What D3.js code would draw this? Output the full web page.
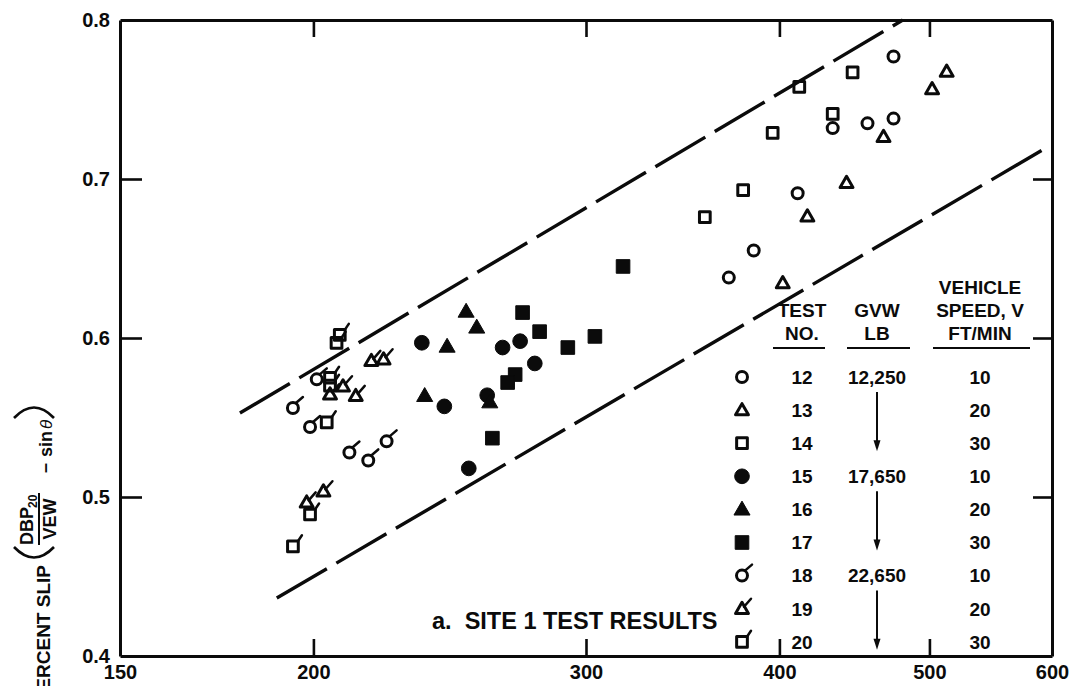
<!DOCTYPE html>
<html>
<head>
<meta charset="utf-8">
<script src="https://cdn.jsdelivr.net/npm/d3@7"></script>
<style>
  html, body { margin: 0; padding: 0; background: #fff; }
  svg { display: block; font-family: "Liberation Sans", Arial, Helvetica, sans-serif; font-weight: bold; }
</style>
</head>
<body>
<svg id="chart" width="1074" height="686"></svg>
<script>
// ---- data ----------------------------------------------------------------
const xTickValues = [150, 200, 300, 400, 500, 600];
const yTickValues = [0.4, 0.5, 0.6, 0.7, 0.8];

// [vehicle weight-related abscissa, percent slip]
const test12 = [[474, 0.777], [456, 0.735], [474, 0.738], [433, 0.732], [411, 0.691], [385, 0.655], [371, 0.638]];
const test13 = [[513, 0.767], [502, 0.756], [467, 0.726], [442, 0.697], [417, 0.676], [402, 0.634]];
const test14 = [[446, 0.767], [412, 0.758], [396, 0.729], [433, 0.741], [379, 0.693], [358, 0.676]];
const test15 = [[235, 0.597], [272, 0.598], [265, 0.594], [278, 0.584], [259, 0.564], [243, 0.557], [252, 0.518]];
const test16 = [[251, 0.616], [255, 0.606], [244, 0.594], [236, 0.563], [260, 0.559]];
const test17 = [[273, 0.616], [280, 0.604], [304, 0.601], [292, 0.594], [270, 0.577], [267, 0.572], [261, 0.537], [317, 0.645]];
const test18 = [[201, 0.574], [194, 0.556], [199, 0.544], [211, 0.528], [217, 0.523], [223, 0.535]];
const test19 = [[209, 0.569], [213, 0.563], [218, 0.585], [222, 0.586], [205, 0.564], [203, 0.503], [198, 0.496]];
const test20 = [[208, 0.602], [207, 0.597], [205, 0.575], [205, 0.570], [204, 0.547], [199, 0.489], [194, 0.469]];

const testNumbers = [12, 13, 14, 15, 16, 17, 18, 19, 20];
const gvwLabels = ["12,250", "", "", "17,650", "", "", "22,650", "", ""];
const speedLabels = [10, 20, 30, 10, 20, 30, 10, 20, 30];
const shapes = ["circle", "triangle", "square", "circle", "triangle", "square", "circle", "triangle", "square"];
const styles = ["open", "open", "open", "filled", "filled", "filled", "tailed", "tailed", "tailed"];
const seriesValues = [test12, test13, test14, test15, test16, test17, test18, test19, test20];

// envelope lines bounding the scatter
const upperBound = [[179.3, 0.5528], [480.6, 0.8]];
const lowerBound = [[189.4, 0.4365], [595.8, 0.720]];

// ---- drawing -------------------------------------------------------------
const ink = "#0b0b0b";
const svg = d3.select("#chart");

const x = d3.scaleLog().domain([150, 600]).range([120, 1052]);
const y = d3.scaleLinear().domain([0.4, 0.8]).range([656, 20]);

function styleAxis(g, fontSize) {
  g.select(".domain").attr("stroke", ink).attr("stroke-width", 3);
  g.selectAll(".tick line").attr("stroke", ink).attr("stroke-width", 2.6);
  g.selectAll(".tick text").attr("fill", ink).attr("font-size", fontSize)
    .attr("font-weight", "bold").attr("font-family", "'Liberation Sans', Arial, sans-serif");
}

// bottom axis with labels
svg.append("g")
  .attr("transform", `translate(0,${y(0.4)})`)
  .call(d3.axisBottom(x).tickValues(xTickValues).tickSizeInner(-17).tickSizeOuter(0)
    .tickPadding(9).tickFormat(d3.format("d")))
  .call(g => styleAxis(g, 20))
  .call(g => g.selectAll(".tick").filter(d => d === 150 || d === 600).select("line").remove());

// top axis
svg.append("g")
  .attr("transform", `translate(0,${y(0.8)})`)
  .call(d3.axisTop(x).tickValues([200, 300, 400, 500]).tickSizeInner(-17).tickSizeOuter(0).tickFormat(""))
  .call(g => styleAxis(g, 20));

// left axis with labels
svg.append("g")
  .attr("transform", `translate(${x(150)},0)`)
  .call(d3.axisLeft(y).tickValues(yTickValues).tickSizeInner(-22).tickSizeOuter(0)
    .tickPadding(10).tickFormat(d3.format(".1f")))
  .call(g => styleAxis(g, 20))
  .call(g => g.selectAll(".tick").filter(d => d === 0.4 || d === 0.8).select("line").remove());

// right axis
svg.append("g")
  .attr("transform", `translate(${x(600)},0)`)
  .call(d3.axisRight(y).tickValues([0.5, 0.6, 0.7]).tickSizeInner(-19).tickSizeOuter(0).tickFormat(""))
  .call(g => styleAxis(g, 20));

// dashed envelope
const line = d3.line().x(d => x(d[0])).y(d => y(d[1]));
[upperBound, lowerBound].forEach(b => {
  svg.append("path")
    .attr("d", line(b))
    .attr("fill", "none")
    .attr("stroke", ink)
    .attr("stroke-width", 3.4)
    .attr("stroke-dasharray", "58,11");
});

// markers
const symbolTypes = { circle: d3.symbolCircle, triangle: d3.symbolTriangle, square: d3.symbolSquare };
const openSize = { circle: 95, triangle: 72, square: 115 };
const filledSize = { circle: 170, triangle: 112, square: 185 };
const tailPath = {
  circle: "M3,-5 L10,-11",
  triangle: "M2,-3 L9,-11",
  square: "M5,-5 L9,-11"
};

function drawMarker(sel, shape, style) {
  const filled = style === "filled";
  sel.append("path")
    .attr("d", d3.symbol(symbolTypes[shape], filled ? filledSize[shape] : openSize[shape])())
    .attr("fill", filled ? ink : "none")
    .attr("stroke", ink)
    .attr("stroke-width", filled ? 1 : 3)
    .attr("stroke-linejoin", "round");
  if (style === "tailed") {
    sel.append("path")
      .attr("d", tailPath[shape])
      .attr("fill", "none")
      .attr("stroke", ink)
      .attr("stroke-width", 2.5)
      .attr("stroke-linecap", "round");
  }
}

seriesValues.forEach((vals, i) => {
  const g = svg.append("g").attr("class", "series-" + testNumbers[i]);
  vals.forEach(p => {
    const m = g.append("g").attr("transform", `translate(${x(p[0])},${y(p[1])})`);
    drawMarker(m, shapes[i], styles[i]);
  });
});

// ---- legend table --------------------------------------------------------
const legend = svg.append("g").attr("font-size", 19).attr("fill", ink);
const colSym = 742, colTest = 802, colGvw = 877, colSpeed = 980;
const rowY0 = 377, rowStep = 33.1;

const headers = [
  { x: colSpeed, y: 287, t: "VEHICLE" },
  { x: colTest, y: 310, t: "TEST" },
  { x: colGvw, y: 310, t: "GVW" },
  { x: colSpeed, y: 310, t: "SPEED, V" },
  { x: colTest, y: 333, t: "NO." },
  { x: colGvw, y: 333, t: "LB" },
  { x: colSpeed, y: 333, t: "FT/MIN" }
];
legend.selectAll("text.hdr").data(headers).join("text")
  .attr("class", "hdr")
  .attr("x", d => d.x).attr("y", d => d.y).attr("dy", "0.36em")
  .attr("text-anchor", "middle").text(d => d.t);

[[773, 825], [847, 910], [933, 1030]].forEach(([a, b]) => {
  legend.append("line").attr("x1", a).attr("x2", b).attr("y1", 348).attr("y2", 348)
    .attr("stroke", ink).attr("stroke-width", 2);
});

testNumbers.forEach((n, i) => {
  const ry = rowY0 + i * rowStep;
  const m = legend.append("g").attr("transform", `translate(${colSym},${ry + (shapes[i] === "triangle" ? 1 : 0)})`);
  drawMarker(m, shapes[i], styles[i]);
  legend.append("text").attr("x", colTest).attr("y", ry).attr("dy", "0.36em")
    .attr("text-anchor", "middle").text(n);
  if (gvwLabels[i]) {
    legend.append("text").attr("x", colGvw).attr("y", ry).attr("dy", "0.36em")
      .attr("text-anchor", "middle").text(gvwLabels[i]);
  }
  legend.append("text").attr("x", colSpeed).attr("y", ry).attr("dy", "0.36em")
    .attr("text-anchor", "middle").text(speedLabels[i]);
});

// "same as above" arrows in the GVW column
[0, 3, 6].forEach(i => {
  const top = rowY0 + i * rowStep + 15;
  const bottom = rowY0 + (i + 2) * rowStep + 8;
  legend.append("line").attr("x1", colGvw).attr("x2", colGvw)
    .attr("y1", top).attr("y2", bottom - 8)
    .attr("stroke", ink).attr("stroke-width", 2);
  legend.append("path")
    .attr("d", `M${colGvw - 3.5},${bottom - 11} L${colGvw + 3.5},${bottom - 11} L${colGvw},${bottom} Z`)
    .attr("fill", ink);
});

// caption
svg.append("text")
  .attr("x", 432).attr("y", 629)
  .attr("font-size", 23.5).attr("fill", ink)
  .attr("xml:space", "preserve")
  .text("a.  SITE 1 TEST RESULTS");

// ---- y-axis title (rotated) ----------------------------------------------
const yt = svg.append("g")
  .attr("transform", "translate(50,686) rotate(-90)")
  .attr("fill", ink);
yt.append("text").attr("x", 121).attr("y", 0).attr("font-size", 19)
  .attr("text-anchor", "end").text("PERCENT SLIP");
yt.append("path").attr("d", "M139,-36 Q118,-16 139,4")
  .attr("fill", "none").attr("stroke", ink).attr("stroke-width", 2.6);
yt.append("text").attr("x", 141).attr("y", -17).attr("font-size", 18).text("DBP");
yt.append("text").attr("x", 178).attr("y", -13).attr("font-size", 12).text("20");
yt.append("line").attr("x1", 141).attr("x2", 193).attr("y1", -11).attr("y2", -11)
  .attr("stroke", ink).attr("stroke-width", 2);
yt.append("text").attr("x", 167).attr("y", 6).attr("font-size", 18)
  .attr("text-anchor", "middle").text("VEW");
yt.append("text").attr("x", 213).attr("y", 1).attr("font-size", 18).text("–");
yt.append("text").attr("x", 229).attr("y", 2).attr("font-size", 18).text("sin ");
yt.append("text").attr("x", 257).attr("y", 2).attr("font-size", 17)
  .attr("font-style", "italic").attr("font-weight", "normal").text("θ");
yt.append("path").attr("d", "M268,-36 Q289,-16 268,4")
  .attr("fill", "none").attr("stroke", ink).attr("stroke-width", 2.6);
</script>
</body>
</html>
